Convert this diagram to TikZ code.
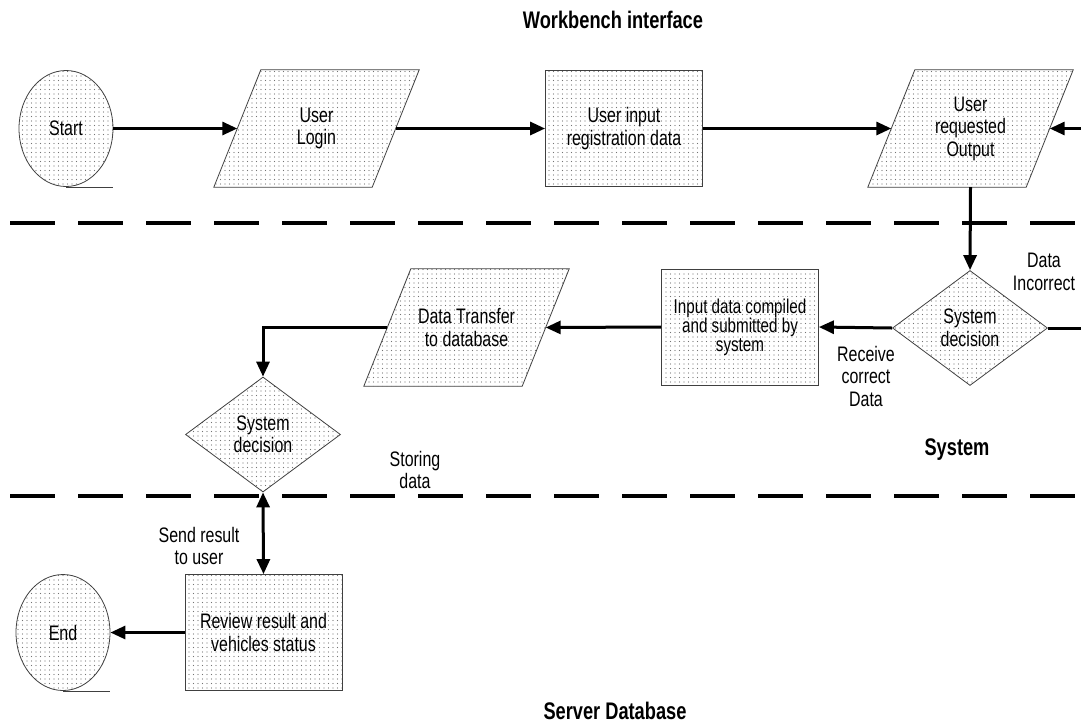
\documentclass[tikz,border=0pt]{standalone}
\usepackage{fontspec}
\setmainfont{Liberation Sans}[FakeStretch=0.76]
\usetikzlibrary{shapes.geometric,arrows.meta,patterns.meta,backgrounds}
\begin{document}
\begin{tikzpicture}[x=1pt,y=-1pt,
  txt/.style={font=\fontsize{21}{22.5}\selectfont, align=center, inner sep=0pt},
  head/.style={font=\bfseries\fontsize{24}{26}\selectfont, inner sep=0pt},
  dotfill/.style={pattern={Dots[distance=4.5pt,radius=0.55pt]}, pattern color=black!55},
  outline/.style={draw=black!75, line width=0.8pt},
  procbox/.style={txt, dotfill, outline, rectangle, minimum width=157pt, minimum height=116pt},
  parabox/.style={txt, minimum width=158pt, minimum height=117pt},
  paraback/.style={dotfill, outline},
  decbox/.style={txt, dotfill, outline, diamond, minimum width=155pt, minimum height=115pt},
  termbox/.style={txt, dotfill, outline, ellipse, minimum width=94pt, minimum height=116pt},
  arr/.style={line width=3pt, -{Triangle[length=15pt,width=13pt]}},
  plain/.style={line width=3pt},
  darr/.style={line width=3pt, {Triangle[length=15pt,width=13pt]}-{Triangle[length=15pt,width=13pt]}},
  lane/.style={line width=3.5pt, dash pattern=on 45pt off 23pt},
]
\useasboundingbox (0,0) rectangle (1081,724);

% lane titles
\node[head] (t1) at (613,20) {Workbench interface};
\node[head] (t2) at (957,450) {System};
\node[head] (t3) at (615,711) {Server Database};

% lane separators
\draw[lane] (10,223) -- (1075,223);
\draw[lane] (10,496) -- (1075,496);

% nodes
\node[termbox] (start) at (66,128.5) {Start};
\node[parabox] (login) at (316.5,128.5) {User\\Login};
\node[procbox] (input) at (624,128.5) {User input\\registration data};
\node[parabox] (output) at (970.5,128.5) {User\\requested\\Output};
\node[decbox] (dec1) at (970,328) {System\\decision};
\node[procbox, font=\fontsize{20}{19}\selectfont] (compiled) at (740,327) {Input data compiled\\and submitted by\\system};
\node[parabox] (transfer) at (466.5,327.5) {Data Transfer\\to database};
\node[decbox] (dec2) at (263,434.5) {System\\decision};
\node[procbox] (review) at (263.5,632.5) {Review result and\\vehicles status};
\node[termbox] (end) at (63,632.5) {End};

\begin{scope}[on background layer]
  \foreach \n in {login,output,transfer}
    \path[paraback] ([xshift=-23.5pt]\n.south west) -- ([xshift=-23.5pt]\n.south east)
      -- ([xshift=23.5pt]\n.north east) -- ([xshift=23.5pt]\n.north west) -- cycle;
\end{scope}

% tape tails of terminals
\draw[outline] (start.south) -- (start.south -| start.east);
\draw[outline] (end.south) -- (end.south -| end.east);

% labels
\node[txt] (l1) at (1044,272) {Data\\Incorrect};
\node[txt] (l2) at (866,376) {Receive\\correct\\Data};
\node[txt] (l3) at (415,470) {Storing\\data};
\node[txt] (l4) at (199,546) {Send result\\to user};

% free ends at the right edge
\coordinate (inR) at (1081,128.5);
\coordinate (outR) at (1081,328);

% connectors
\draw[arr] (start.east) -- (login.west);
\draw[arr] (login.east) -- (input.west);
\draw[arr] (input.east) -- (output.west);
\draw[arr] (inR) -- (output.east);
\draw[arr] (output.south) -- (dec1.north);
\draw[plain] (dec1.east) -- (outR);
\draw[arr] (dec1.west) -- (compiled.east);
\draw[arr] (compiled.west) -- (transfer.east);
\draw[arr] (transfer.west) -| (dec2.north);
\draw[darr] (dec2.south) -- (review.north);
\draw[arr] (review.west) -- (end.east);
\end{tikzpicture}
\end{document}
